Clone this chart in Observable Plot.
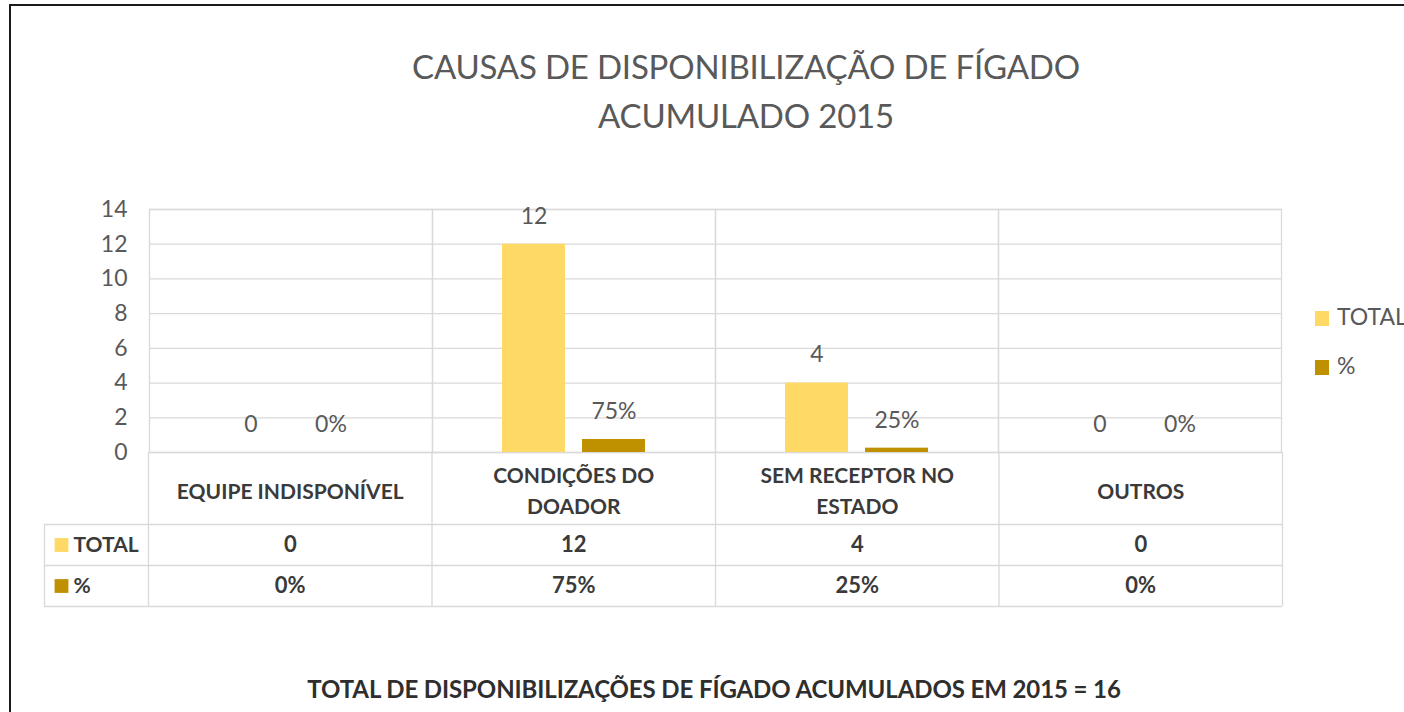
<!DOCTYPE html>
<html>
<head>
<meta charset="utf-8">
<script src="https://cdn.jsdelivr.net/npm/d3@7"></script>
<script src="https://cdn.jsdelivr.net/npm/@observablehq/plot@0.6"></script>
<style>
  html, body { margin: 0; padding: 0; background: #fff; }
  #wrap { position: relative; width: 1404px; height: 712px; overflow: hidden; font-family: Lato, sans-serif; }
  #border { position: absolute; left: 9px; top: 4px; width: 1420px; height: 760px; border-left: 2px solid #1a1a1a; border-top: 2px solid #1a1a1a; }
  #title { position: absolute; left: 46px; top: 42px; width: 1400px; text-align: center; font-size: 33px; line-height: 49px; color: #595959; letter-spacing: -0.2px; }
  #footer { position: absolute; left: 14px; top: 674px; width: 1400px; text-align: center; font-size: 24px; line-height: 30px; font-weight: bold; color: #2e2e2e; letter-spacing: -0.1px; }
  #chart { position: absolute; left: 0; top: 170px; }
  #table { position: absolute; left: 0; top: 440px; }
  .leg { position: absolute; left: 1315px; font-size: 23px; color: #595959; line-height: 30px; white-space: nowrap; }
  .leg span.sw { display: inline-block; width: 14px; height: 15px; margin-right: 8px; vertical-align: -1px; }
</style>
</head>
<body>
<div id="wrap">
  <div id="border"></div>
  <div id="title">CAUSAS DE DISPONIBILIZAÇÃO DE FÍGADO<br>ACUMULADO 2015</div>
  <div id="chart"></div>
  <div id="table"></div>
  <div id="legend"></div>
  <div id="footer">TOTAL DE DISPONIBILIZAÇÕES DE FÍGADO ACUMULADOS EM 2015 = 16</div>
</div>
<script>
const categories = ["EQUIPE INDISPONÍVEL", "CONDIÇÕES DO DOADOR", "SEM RECEPTOR NO ESTADO", "OUTROS"];
const categoryLabels = ["EQUIPE INDISPONÍVEL", "CONDIÇÕES DO\nDOADOR", "SEM RECEPTOR NO\nESTADO", "OUTROS"];
const series = ["TOTAL", "%"];
const seriesColors = ["#FFD966", "#BF9000"];
const totals = [0, 12, 4, 0];
const percents = [0, 75, 25, 0];
const yTicks = [0, 2, 4, 6, 8, 10, 12, 14];

const data = [];
categories.forEach((c, i) => {
  data.push({category: c, series: "TOTAL", value: totals[i], label: String(totals[i])});
  data.push({category: c, series: "%", value: percents[i] / 100, label: percents[i] + "%"});
});

const chart = Plot.plot({
  width: 1404,
  height: 290,
  marginLeft: 148,
  marginRight: 122,
  marginTop: 39,
  marginBottom: 8,
  style: {fontFamily: "Lato, sans-serif", fontSize: "23px", color: "#595959", background: "transparent", overflow: "visible"},
  fx: {domain: categories, padding: 0, axis: null},
  x: {domain: series, paddingInner: 0.211, paddingOuter: 0.866, axis: null},
  y: {domain: [0, 14], ticks: yTicks, tickSize: 0, tickPadding: 22, label: null, tickFormat: d => d},
  color: {domain: series, range: seriesColors},
  marks: [
    Plot.ruleY(yTicks, {stroke: "#d9d9d9", strokeWidth: 1.3}),
    Plot.frame({stroke: "#d9d9d9", strokeWidth: 1.3}),
    Plot.barY(data, {fx: "category", x: "series", y: "value", fill: "series"}),
    Plot.text(data, {fx: "category", x: "series", y: "value", text: "label", dy: -28, fill: "#595959", fontSize: 23})
  ]
});
document.getElementById("chart").appendChild(chart);

// data table
const cells = [];
categories.forEach((c, i) => {
  cells.push({x: i + 0.5, y: 0.5, text: String(totals[i])});
  cells.push({x: i + 0.5, y: 1.5, text: percents[i] + "%"});
});

const table = Plot.plot({
  width: 1404,
  height: 176,
  marginLeft: 148,
  marginRight: 122,
  marginTop: 84,
  marginBottom: 10,
  style: {fontFamily: "Lato, sans-serif", color: "#404040", background: "transparent", overflow: "visible"},
  x: {domain: [0, categories.length], axis: null},
  y: {domain: [0, series.length], reverse: true, axis: null},
  marks: [
    Plot.ruleX(d3.range(categories.length + 1), {stroke: "#d9d9d9", strokeWidth: 1.3, insetTop: -72}),
    Plot.ruleX([0], {stroke: "#d9d9d9", strokeWidth: 1.3, dx: -104}),
    Plot.ruleY(d3.range(series.length + 1), {stroke: "#d9d9d9", strokeWidth: 1.3, insetLeft: -104}),
    Plot.text(categoryLabels, {x: (d, i) => i + 0.5, frameAnchor: "top", dy: -36, lineAnchor: "middle", text: d => d, fontWeight: "bold", fontSize: 21, lineHeight: 1.5, fill: "#3a3a3a"}),
    Plot.text(cells, {x: "x", y: "y", text: "text", fontWeight: "bold", fontSize: 22, fill: "#3a3a3a"}),
    Plot.dot(series, {y: (d, i) => i + 0.5, frameAnchor: "left", dx: -87, symbol: "square", r: 7.8, fill: (d, i) => seriesColors[i], stroke: null}),
    Plot.text(series, {y: (d, i) => i + 0.5, frameAnchor: "left", dx: -75, textAnchor: "start", text: d => d, fontWeight: "bold", fontSize: 21, fill: "#3a3a3a"})
  ]
});
document.getElementById("table").appendChild(table);

// legend
const legend = document.getElementById("legend");
const legendTops = [301, 350];
series.forEach((s, i) => {
  const div = document.createElement("div");
  div.className = "leg";
  div.style.top = legendTops[i] + "px";
  div.innerHTML = `<span class="sw" style="background:${seriesColors[i]}"></span>${s}`;
  legend.appendChild(div);
});
</script>
</body>
</html>
